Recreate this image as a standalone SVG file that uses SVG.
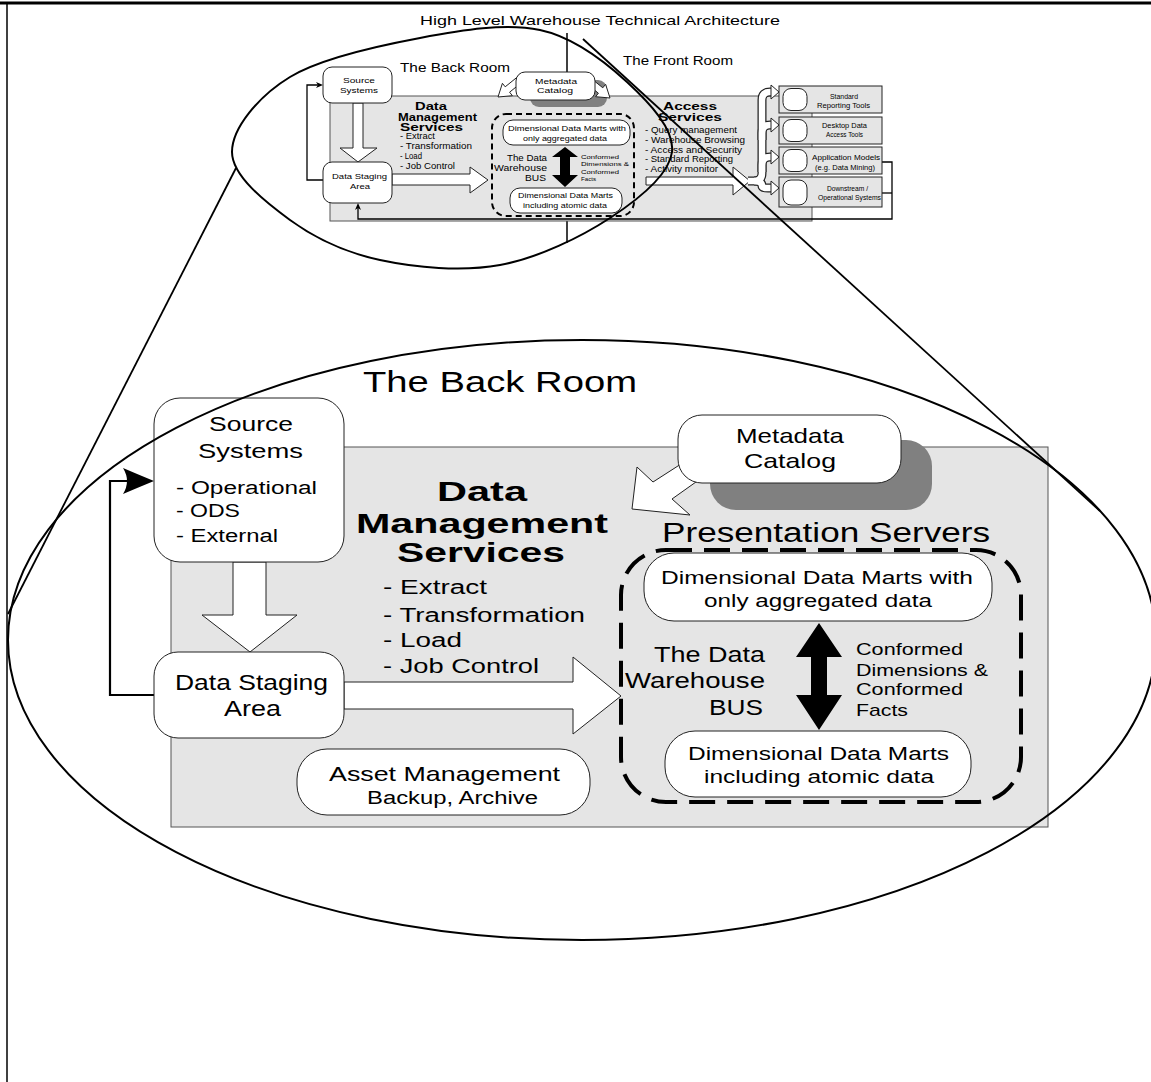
<svg xmlns="http://www.w3.org/2000/svg" width="1151" height="1082" viewBox="0 0 1151 1082">
  <style>
    .t { font-family: "Liberation Sans", Arial, sans-serif; fill: #000; }
    .b { font-weight: bold; }
    .panel { fill: #e5e5e5; stroke: #555; stroke-width: 1; }
    .box { fill: #fff; stroke: #222; stroke-width: 1; }
    .gbox { fill: #e5e5e5; stroke: #222; stroke-width: 1; }
    .hollow { fill: #fff; stroke: #222; stroke-width: 1; stroke-linejoin: miter; }
    .wire { fill: none; stroke: #000; stroke-width: 2.2; }
    .thin { fill: none; stroke: #000; stroke-width: 1.3; }
    .solid { fill: #000; stroke: none; }
    .dash { fill: none; stroke: #000; stroke-width: 4; stroke-dasharray: 26 12; }
    .dashs { fill: none; stroke: #000; stroke-width: 2; stroke-dasharray: 6 4; }
    .outline { fill: none; stroke: #000; stroke-width: 2; }
    .shadow { fill: #808080; }
    .bandO { fill: none; stroke: #222; stroke-width: 9; stroke-linecap: butt; }
    .bandI { fill: none; stroke: #fff; stroke-width: 6.5; stroke-linecap: butt; }
  </style>

  <!-- page frame -->
  <line x1="0" y1="3" x2="1151" y2="3" stroke="#000" stroke-width="3"/>
  <line x1="7" y1="3" x2="7" y2="1082" stroke="#000" stroke-width="1.5"/>

  <!-- ===== overview diagram (top) ===== -->
  <g id="overview">
    <text class="t" x="420" y="25" font-size="13" textLength="360" lengthAdjust="spacingAndGlyphs">High Level Warehouse Technical Architecture</text>
    <line x1="567" y1="33" x2="567" y2="243" stroke="#000" stroke-width="1.5"/>
    <text class="t" x="400" y="72" font-size="12" textLength="110" lengthAdjust="spacingAndGlyphs">The Back Room</text>
    <text class="t" x="623" y="65" font-size="12" textLength="110" lengthAdjust="spacingAndGlyphs">The Front Room</text>

    <g id="ov-panel">
      <rect class="panel" x="330" y="96" width="482" height="125"/>
    </g>

    <g id="ov-connectors">
      <!-- feedback from staging to sources -->
      <polyline class="thin" points="323,180 307,180 307,85 318,85"/>
      <polygon class="solid" points="323,85 316,82 318,85 316,88"/>
      <!-- return path from front room -->
      <polyline class="thin" points="882,162 892,162 892,219 358,219 358,208"/>
      <line class="thin" x1="882" y1="193" x2="892" y2="193"/>
      <polygon class="solid" points="358,203 355,210 358,208 361,210"/>
      <!-- block arrows -->
      <polygon class="hollow" points="353,103 363,103 363,148 377,148 358,162 340,148 353,148"/>
      <polygon class="hollow" points="392,174 470,174 470,167 488,180 470,193 470,185 392,185"/>
      <polygon class="hollow" points="646,177 733,177 733,167 750,181 733,195 733,185 646,185"/>
      <!-- fan out to access tools -->
      <g>
        <path class="bandO" d="M748,181 H754 Q762,181 762,173 V100 Q762,92 770,92 H773"/>
        <path class="bandO" d="M762,140 V133 Q762,125 770,125 H773"/>
        <path class="bandO" d="M762,172 V165 Q762,157 770,157 H773"/>
        <path class="bandO" d="M754,181 Q762,181 762,186 Q762,188 768,188 H773"/>
        <path class="bandI" d="M748,181 H754 Q762,181 762,173 V100 Q762,92 770,92 H774"/>
        <path class="bandI" d="M762,140 V133 Q762,125 770,125 H774"/>
        <path class="bandI" d="M762,172 V165 Q762,157 770,157 H774"/>
        <path class="bandI" d="M754,181 Q762,181 762,186 Q762,188 768,188 H774"/>
        <polygon class="hollow" points="771,85 779,92 771,99"/>
        <polygon class="hollow" points="771,118 779,125 771,132"/>
        <polygon class="hollow" points="771,150 779,157 771,164"/>
        <polygon class="hollow" points="771,181 779,188 771,195"/>
      </g>
      <!-- metadata arrows -->
      <polygon class="hollow" points="498,97 502.4,83.3 505.2,86.8 523.1,72.4 527.5,77.8 509.6,92.2 512.4,95.7"/>
    </g>

    <g id="ov-metadata">
      <rect class="shadow" x="530" y="80" width="77" height="27" rx="9"/>
      <polygon class="hollow" points="610,98 605.6,84.3 602.8,87.8 584.9,73.4 580.5,78.8 598.4,93.2 595.6,96.7"/>
      <rect class="box" x="516" y="72" width="79" height="28" rx="9" stroke-width="1.5"/>
      <text class="t" x="535" y="84" font-size="8" textLength="42" lengthAdjust="spacingAndGlyphs">Metadata</text>
      <text class="t" x="537" y="93" font-size="8" textLength="36" lengthAdjust="spacingAndGlyphs">Catalog</text>
    </g>

    <g id="ov-source">
      <rect class="box" x="323" y="67" width="69" height="36" rx="9"/>
      <text class="t" x="343" y="83" font-size="8" textLength="32" lengthAdjust="spacingAndGlyphs">Source</text>
      <text class="t" x="340" y="93" font-size="8" textLength="38" lengthAdjust="spacingAndGlyphs">Systems</text>
    </g>

    <g id="ov-staging">
      <rect class="box" x="323" y="162" width="69" height="41" rx="9"/>
      <text class="t" x="332" y="179" font-size="8" textLength="55" lengthAdjust="spacingAndGlyphs">Data Staging</text>
      <text class="t" x="350" y="189" font-size="8" textLength="20" lengthAdjust="spacingAndGlyphs">Area</text>
    </g>

    <g id="ov-dms">
      <text class="t b" x="415" y="110" font-size="11" textLength="32" lengthAdjust="spacingAndGlyphs">Data</text>
      <text class="t b" x="398" y="120.5" font-size="11" textLength="79" lengthAdjust="spacingAndGlyphs">Management</text>
      <text class="t b" x="400" y="130.5" font-size="11" textLength="63" lengthAdjust="spacingAndGlyphs">Services</text>
      <text class="t" x="400" y="139" font-size="8.5" textLength="35" lengthAdjust="spacingAndGlyphs">- Extract</text>
      <text class="t" x="400" y="149" font-size="8.5" textLength="72" lengthAdjust="spacingAndGlyphs">- Transformation</text>
      <text class="t" x="400" y="159" font-size="8.5" textLength="22" lengthAdjust="spacingAndGlyphs">- Load</text>
      <text class="t" x="400" y="168.5" font-size="8.5" textLength="55" lengthAdjust="spacingAndGlyphs">- Job Control</text>
    </g>

    <g id="ov-presentation">
      <rect class="dashs" x="492" y="114" width="142" height="102" rx="14"/>
      <rect class="box" x="503" y="120" width="127" height="25" rx="10"/>
      <text class="t" x="508" y="131" font-size="7" textLength="118" lengthAdjust="spacingAndGlyphs">Dimensional Data Marts with</text>
      <text class="t" x="523" y="141" font-size="7" textLength="84" lengthAdjust="spacingAndGlyphs">only aggregated data</text>
      <rect class="box" x="510" y="188" width="112" height="25" rx="10"/>
      <text class="t" x="518" y="198" font-size="7" textLength="95" lengthAdjust="spacingAndGlyphs">Dimensional Data Marts</text>
      <text class="t" x="523" y="208" font-size="7" textLength="84" lengthAdjust="spacingAndGlyphs">including atomic data</text>
      <polygon class="solid" points="565,147 578,157 570,157 570,175 578,175 565,187 552,175 560,175 560,157 552,157"/>
      <text class="t" x="507" y="161" font-size="9" textLength="40" lengthAdjust="spacingAndGlyphs">The Data</text>
      <text class="t" x="494" y="171" font-size="9" textLength="53" lengthAdjust="spacingAndGlyphs">Warehouse</text>
      <text class="t" x="525" y="181" font-size="9" textLength="21" lengthAdjust="spacingAndGlyphs">BUS</text>
      <text class="t" x="581" y="159" font-size="5.5" textLength="38" lengthAdjust="spacingAndGlyphs">Conformed</text>
      <text class="t" x="581" y="166" font-size="5.5" textLength="48" lengthAdjust="spacingAndGlyphs">Dimensions &amp;</text>
      <text class="t" x="581" y="174" font-size="5.5" textLength="38" lengthAdjust="spacingAndGlyphs">Conformed</text>
      <text class="t" x="581" y="181" font-size="5.5" textLength="15" lengthAdjust="spacingAndGlyphs">Facts</text>
    </g>

    <g id="ov-access">
      <text class="t b" x="663" y="109.5" font-size="11" textLength="54" lengthAdjust="spacingAndGlyphs">Access</text>
      <text class="t b" x="658" y="120.5" font-size="11" textLength="64" lengthAdjust="spacingAndGlyphs">Services</text>
      <text class="t" x="645" y="133" font-size="9.5" textLength="92" lengthAdjust="spacingAndGlyphs">- Query management</text>
      <text class="t" x="645" y="143" font-size="9.5" textLength="100" lengthAdjust="spacingAndGlyphs">- Warehouse Browsing</text>
      <text class="t" x="645" y="152.5" font-size="9.5" textLength="97" lengthAdjust="spacingAndGlyphs">- Access and Security</text>
      <text class="t" x="645" y="162" font-size="9.5" textLength="88" lengthAdjust="spacingAndGlyphs">- Standard Reporting</text>
      <text class="t" x="645" y="172" font-size="9.5" textLength="73" lengthAdjust="spacingAndGlyphs">- Activity monitor</text>
    </g>

    <g id="ov-tool-reporting">
      <rect class="gbox" x="779" y="86" width="103" height="27"/>
      <rect class="box" x="783" y="88.5" width="24" height="22" rx="8"/>
      <text class="t" x="830" y="99" font-size="6.5" textLength="28" lengthAdjust="spacingAndGlyphs">Standard</text>
      <text class="t" x="817" y="108" font-size="6.5" textLength="53" lengthAdjust="spacingAndGlyphs">Reporting Tools</text>
    </g>
    <g id="ov-tool-desktop">
      <rect class="gbox" x="779" y="117" width="103" height="27"/>
      <rect class="box" x="783" y="119.5" width="24" height="22" rx="8"/>
      <text class="t" x="822" y="128" font-size="6.5" textLength="45" lengthAdjust="spacingAndGlyphs">Desktop Data</text>
      <text class="t" x="826" y="137" font-size="6.5" textLength="37" lengthAdjust="spacingAndGlyphs">Access Tools</text>
    </g>
    <g id="ov-tool-models">
      <rect class="gbox" x="779" y="147" width="103" height="27"/>
      <rect class="box" x="783" y="149.5" width="24" height="22" rx="8"/>
      <text class="t" x="812" y="160" font-size="6.5" textLength="68" lengthAdjust="spacingAndGlyphs">Application Models</text>
      <text class="t" x="815" y="170" font-size="6.5" textLength="60" lengthAdjust="spacingAndGlyphs">(e.g. Data Mining)</text>
    </g>
    <g id="ov-tool-downstream">
      <rect class="gbox" x="779" y="177" width="103" height="30"/>
      <rect class="box" x="783" y="180" width="24" height="25" rx="8"/>
      <text class="t" x="827" y="191" font-size="6.5" textLength="41" lengthAdjust="spacingAndGlyphs">Downstream /</text>
      <text class="t" x="818" y="200" font-size="6.5" textLength="63" lengthAdjust="spacingAndGlyphs">Operational Systems</text>
    </g>
  </g>

  <!-- ===== magnified back room ===== -->
  <g id="backroom">
    <text class="t" x="363" y="392" font-size="30" textLength="274" lengthAdjust="spacingAndGlyphs">The Back Room</text>

    <g id="br-panel">
      <rect class="panel" x="171" y="447" width="877" height="380"/>
    </g>

    <g id="br-connectors">
      <!-- feedback loop from staging back to sources -->
      <polyline class="wire" points="154,695 110,695 110,481 128,481"/>
      <path class="solid" d="M154,481 Q137,474 123,468 Q131,481 123,494 Q137,488 154,481 Z"/>
      <!-- extraction into staging -->
      <polygon class="hollow" points="233,562 266,562 266,615 297,615 250,652 202,615 233,615"/>
      <!-- load into presentation servers -->
      <polygon class="hollow" points="344,682 573,682 573,657 621,696 573,734 573,709 344,709"/>
      <!-- metadata feed -->
      <polygon class="hollow" points="632,509 637,467 653,482 695,455 710,472 672,499 690,515"/>
      <!-- bus between mart tiers -->
      <polygon class="solid" points="819,623 842,657 827,657 827,695 842,695 819,730 796,695 811,695 811,657 796,657"/>
    </g>

    <g id="br-metadata">
      <rect class="shadow" x="710" y="440" width="222" height="70" rx="26"/>
      <rect class="box" x="678" y="415" width="223" height="68" rx="24" stroke-width="2.5"/>
      <text class="t" x="736" y="443" font-size="21" textLength="108" lengthAdjust="spacingAndGlyphs">Metadata</text>
      <text class="t" x="744" y="468" font-size="21" textLength="92" lengthAdjust="spacingAndGlyphs">Catalog</text>
    </g>

    <g id="br-source">
      <rect class="box" x="154" y="398" width="190" height="164" rx="26"/>
      <text class="t" x="209" y="431" font-size="20" textLength="84" lengthAdjust="spacingAndGlyphs">Source</text>
      <text class="t" x="198" y="458" font-size="20" textLength="105" lengthAdjust="spacingAndGlyphs">Systems</text>
      <text class="t" x="176" y="494" font-size="18" textLength="141" lengthAdjust="spacingAndGlyphs">- Operational</text>
      <text class="t" x="176" y="517" font-size="18" textLength="64" lengthAdjust="spacingAndGlyphs">- ODS</text>
      <text class="t" x="176" y="542" font-size="18" textLength="102" lengthAdjust="spacingAndGlyphs">- External</text>
    </g>

    <g id="br-staging">
      <rect class="box" x="154" y="652" width="190" height="86" rx="24"/>
      <text class="t" x="175" y="690" font-size="22" textLength="153" lengthAdjust="spacingAndGlyphs">Data Staging</text>
      <text class="t" x="224" y="716" font-size="22" textLength="57" lengthAdjust="spacingAndGlyphs">Area</text>
    </g>

    <g id="br-dms">
      <text class="t b" x="437" y="501" font-size="28" textLength="90" lengthAdjust="spacingAndGlyphs">Data</text>
      <text class="t b" x="356" y="533" font-size="28" textLength="252" lengthAdjust="spacingAndGlyphs">Management</text>
      <text class="t b" x="397" y="562" font-size="28" textLength="168" lengthAdjust="spacingAndGlyphs">Services</text>
      <text class="t" x="383" y="594" font-size="20" textLength="104" lengthAdjust="spacingAndGlyphs">- Extract</text>
      <text class="t" x="383" y="622" font-size="20" textLength="202" lengthAdjust="spacingAndGlyphs">- Transformation</text>
      <text class="t" x="383" y="647" font-size="20" textLength="79" lengthAdjust="spacingAndGlyphs">- Load</text>
      <text class="t" x="383" y="673" font-size="20" textLength="156" lengthAdjust="spacingAndGlyphs">- Job Control</text>
    </g>

    <g id="br-asset">
      <rect class="box" x="297" y="749" width="293" height="66" rx="30"/>
      <text class="t" x="329" y="781" font-size="21" textLength="231" lengthAdjust="spacingAndGlyphs">Asset Management</text>
      <text class="t" x="367" y="804" font-size="18" textLength="171" lengthAdjust="spacingAndGlyphs">Backup, Archive</text>
    </g>

    <g id="br-presentation">
      <text class="t" x="662" y="542" font-size="27" textLength="328" lengthAdjust="spacingAndGlyphs">Presentation Servers</text>
      <rect class="dash" x="621" y="550" width="400" height="252" rx="45"/>
      <text class="t" x="654" y="662" font-size="22" textLength="111" lengthAdjust="spacingAndGlyphs">The Data</text>
      <text class="t" x="625" y="688" font-size="22" textLength="140" lengthAdjust="spacingAndGlyphs">Warehouse</text>
      <text class="t" x="709" y="715" font-size="22" textLength="54" lengthAdjust="spacingAndGlyphs">BUS</text>
      <text class="t" x="856" y="655" font-size="17" textLength="107" lengthAdjust="spacingAndGlyphs">Conformed</text>
      <text class="t" x="856" y="676" font-size="17" textLength="132" lengthAdjust="spacingAndGlyphs">Dimensions &amp;</text>
      <text class="t" x="856" y="695" font-size="17" textLength="107" lengthAdjust="spacingAndGlyphs">Conformed</text>
      <text class="t" x="856" y="716" font-size="17" textLength="52" lengthAdjust="spacingAndGlyphs">Facts</text>
    </g>

    <g id="br-mart-aggregated">
      <rect class="box" x="644" y="553" width="348" height="68" rx="30"/>
      <text class="t" x="661" y="584" font-size="17.5" textLength="312" lengthAdjust="spacingAndGlyphs">Dimensional Data Marts with</text>
      <text class="t" x="704" y="607" font-size="17.5" textLength="228" lengthAdjust="spacingAndGlyphs">only aggregated data</text>
    </g>

    <g id="br-mart-atomic">
      <rect class="box" x="665" y="731" width="306" height="66" rx="30"/>
      <text class="t" x="688" y="760" font-size="17.5" textLength="261" lengthAdjust="spacingAndGlyphs">Dimensional Data Marts</text>
      <text class="t" x="704" y="783" font-size="17.5" textLength="230" lengthAdjust="spacingAndGlyphs">including atomic data</text>
    </g>
  </g>

  <!-- ===== magnifier outlines ===== -->
  <g id="magnifier">
    <path class="outline" stroke-width="2.5" d="M232,152 C232,128.2 258.7,96 290,77 C321.3,58 378.3,45.8 420,38 C461.7,30.2 505.5,22.7 540,30 C574.5,37.3 605,61.7 627,82 C649,102.3 674.8,129.3 672,152 C669.2,174.7 638.7,199.2 610,218 C581.3,236.8 538.3,258 500,265 C461.7,272 415,267.5 380,260 C345,252.5 314.7,238 290,220 C265.3,202 232,175.8 232,152 Z"/>
    <ellipse class="outline" cx="582" cy="640" rx="574" ry="300"/>
    <line x1="236" y1="168" x2="8" y2="614" stroke="#000" stroke-width="1.8"/>
    <line x1="583" y1="39" x2="1100" y2="511" stroke="#000" stroke-width="1.8"/>
  </g>
</svg>
